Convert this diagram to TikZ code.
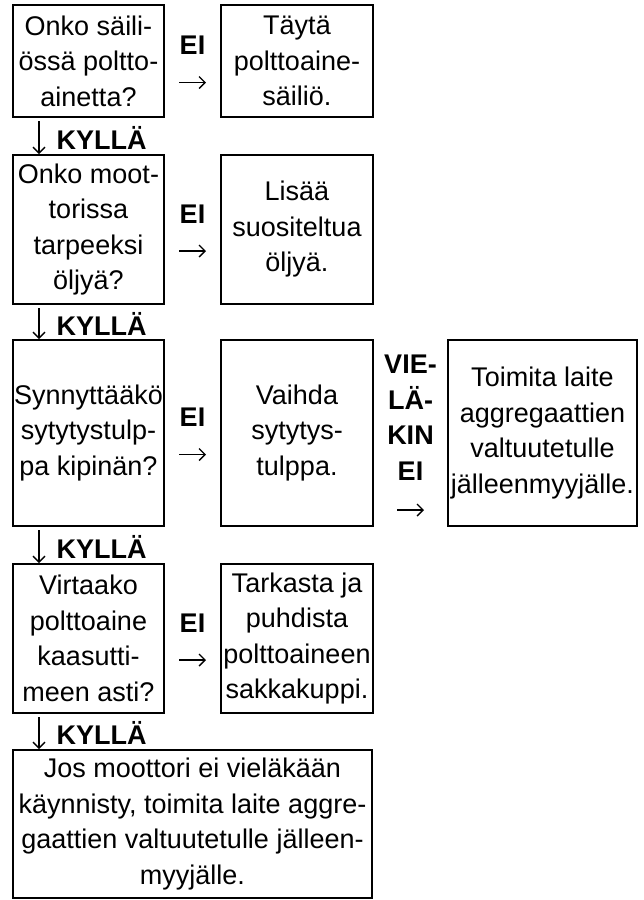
\documentclass[tikz,border=0pt]{standalone}
\usepackage{fontspec}
\setmainfont{Liberation Sans}
\usetikzlibrary{arrows.meta}

\begin{document}
\begin{tikzpicture}[x = .5pt, y = -.5pt,
	box/.style = {draw, line width = 1pt, align = center, inner sep = 0pt,
		font = \fontsize{13.5}{17.75}\selectfont},
	qbox/.style = {box, minimum width = 75.5pt},
	abox/.style = {box, minimum width = 76pt},
	tip/.style = {line width = .7pt, -{Straight Barb[length = 3pt, width = 6pt]}},
	lbl/.style = {inner sep = 0pt, align = center, font = \fontsize{13.5}{17.75}\selectfont\bfseries}]
	\useasboundingbox (0,0) rectangle (643,900);
	% questions
	\node[qbox, minimum height = 56pt] (q1) at (88.5,61) {Onko säili-\\össä poltto-\\ainetta?};
	\node[qbox, minimum height = 74.5pt] (q2) at (88.5,229.5) {Onko moot-\\torissa\\tarpeeksi\\öljyä?};
	\node[qbox, minimum height = 93pt] (q3) at (88.5,433) {Synnyttääkö\\sytytystulp-\\pa kipinän?};
	\node[qbox, minimum height = 74.5pt] (q4) at (88.5,638.5) {Virtaako\\polttoaine\\kaasutti-\\meen asti?};
	% actions
	\node[abox, minimum height = 56pt] (a1) at (297,61) {Täytä\\polttoaine-\\säiliö.};
	\node[abox, minimum height = 74.5pt] (a2) at (297,229.5) {Lisää\\suositeltua\\öljyä.};
	\node[abox, minimum height = 93pt] (a3) at (297,433) {Vaihda\\sytytys-\\tulppa.};
	\node[abox, minimum height = 74.5pt] (a4) at (297,638.5) {Tarkasta ja\\puhdista\\polttoaineen\\sakkakuppi.};
	\node[box, minimum width = 94.5pt, minimum height = 93pt] (s3) at (542.5,433) {Toimita laite\\aggregaattien\\valtuutetulle\\jälleenmyyjälle.};
	\node[box, minimum width = 179.5pt, minimum height = 74pt] (e5) at (192.5,824) {Jos moottori ei vieläkään\\käynnisty, toimita laite aggre-\\gaattien valtuutetulle jälleen-\\myyjälle.};
	% EI
	\foreach \q/\a in {q1/a1, q2/a2, q3/a3, q4/a4}
		\draw[tip, shorten <= 7pt, shorten >= 7pt] ([yshift = -10.75pt]\q.east) -- ([yshift = -10.75pt]\a.west)
			node[lbl, midway, yshift = 18.5pt] {EI};
	\draw[tip, shorten <= 11.5pt, shorten >= 11.5pt] ([yshift = -38.5pt]a3.east) -- ([yshift = -38.5pt]s3.west)
		node[lbl, midway, yshift = 46.25pt] {VIE-\\LÄ-\\KIN\\EI};
	% KYLLÄ
	\foreach \q/\n in {q1/q2, q2/q3, q3/q4, q4/e5}
		\draw[tip] ([xshift = 13.5pt, yshift = -1.5pt]\q.south west) -- ([xshift = 13.5pt]\n.north west)
			node[lbl, midway, right = 8.5pt] {KYLLÄ};
\end{tikzpicture}
\end{document}
